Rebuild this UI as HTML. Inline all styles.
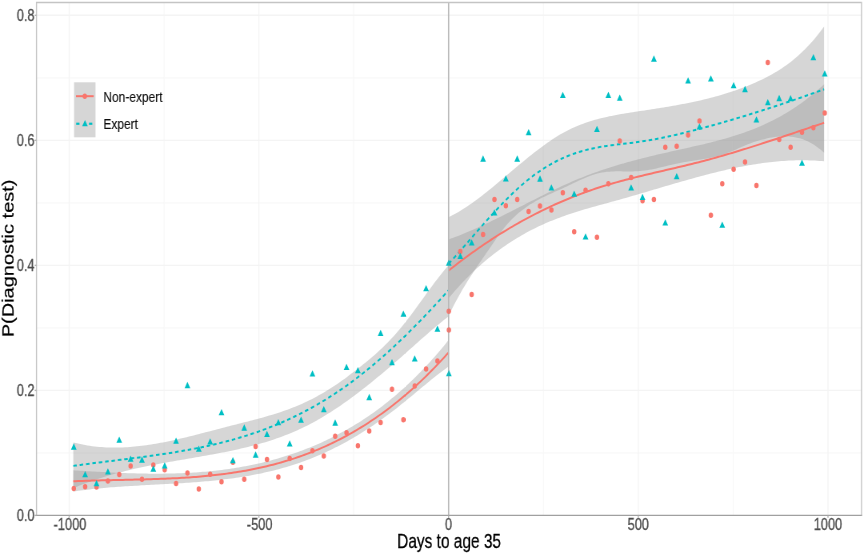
<!DOCTYPE html>
<html><head><meta charset="utf-8"><style>html,body{margin:0;padding:0;background:#fff;width:864px;height:554px;overflow:hidden;position:relative}</style></head><body>
<svg width="864" height="554" viewBox="0 0 1080 554" preserveAspectRatio="none" style="position:absolute;left:0;top:0;will-change:transform">
<defs><filter id="bl" x="-2%" y="-2%" width="104%" height="104%"><feGaussianBlur stdDeviation="0.55 0.3"/></filter></defs>
<rect x="0" y="0" width="1080" height="554" fill="#fff"/>
<g filter="url(#bl)">
<line x1="45.62" x2="1076.88" y1="452.89" y2="452.89" stroke="#F8F8F8" stroke-width="1.2"/>
<line x1="45.62" x2="1076.88" y1="327.87" y2="327.87" stroke="#F8F8F8" stroke-width="1.2"/>
<line x1="45.62" x2="1076.88" y1="202.85" y2="202.85" stroke="#F8F8F8" stroke-width="1.2"/>
<line x1="45.62" x2="1076.88" y1="77.83" y2="77.83" stroke="#F8F8F8" stroke-width="1.2"/>
<line y1="2.5" y2="515.6" x1="205.06" x2="205.06" stroke="#F8F8F8" stroke-width="1.2"/>
<line y1="2.5" y2="515.6" x1="442.19" x2="442.19" stroke="#F8F8F8" stroke-width="1.2"/>
<line y1="2.5" y2="515.6" x1="679.31" x2="679.31" stroke="#F8F8F8" stroke-width="1.2"/>
<line y1="2.5" y2="515.6" x1="916.44" x2="916.44" stroke="#F8F8F8" stroke-width="1.2"/>
<line x1="45.62" x2="1076.88" y1="390.38" y2="390.38" stroke="#F4F4F4" stroke-width="1.4"/>
<line x1="45.62" x2="1076.88" y1="265.36" y2="265.36" stroke="#F4F4F4" stroke-width="1.4"/>
<line x1="45.62" x2="1076.88" y1="140.34" y2="140.34" stroke="#F4F4F4" stroke-width="1.4"/>
<line x1="45.62" x2="1076.88" y1="15.32" y2="15.32" stroke="#F4F4F4" stroke-width="1.4"/>
<line y1="2.5" y2="515.6" x1="86.50" x2="86.50" stroke="#F4F4F4" stroke-width="1.4"/>
<line y1="2.5" y2="515.6" x1="323.62" x2="323.62" stroke="#F4F4F4" stroke-width="1.4"/>
<line y1="2.5" y2="515.6" x1="797.88" x2="797.88" stroke="#F4F4F4" stroke-width="1.4"/>
<line y1="2.5" y2="515.6" x1="1035.00" x2="1035.00" stroke="#F4F4F4" stroke-width="1.4"/>
<path d="M91.62,470.28 L94.58,470.43 L97.53,470.58 L100.48,470.73 L103.43,470.87 L106.38,471.02 L109.33,471.16 L112.28,471.30 L115.23,471.44 L118.18,471.58 L121.13,471.71 L124.08,471.85 L127.03,471.97 L129.98,472.10 L132.93,472.22 L135.88,472.34 L138.83,472.46 L141.78,472.57 L144.73,472.68 L147.68,472.78 L150.63,472.88 L153.58,472.97 L156.54,473.06 L159.49,473.15 L162.44,473.23 L165.39,473.30 L168.34,473.37 L171.29,473.43 L174.24,473.48 L177.19,473.53 L180.14,473.57 L183.09,473.61 L186.04,473.64 L188.99,473.66 L191.94,473.67 L194.89,473.68 L197.84,473.67 L200.79,473.66 L203.74,473.65 L206.69,473.62 L209.64,473.58 L212.59,473.54 L215.54,473.49 L218.50,473.42 L221.45,473.35 L224.40,473.27 L227.35,473.18 L230.30,473.07 L233.25,472.96 L236.20,472.84 L239.15,472.71 L242.10,472.56 L245.05,472.40 L248.00,472.24 L250.95,472.06 L253.90,471.87 L256.85,471.66 L259.80,471.45 L262.75,471.22 L265.70,470.98 L268.65,470.73 L271.60,470.46 L274.55,470.18 L277.50,469.89 L280.46,469.58 L283.41,469.26 L286.36,468.93 L289.31,468.58 L292.26,468.21 L295.21,467.84 L298.16,467.44 L301.11,467.03 L304.06,466.61 L307.01,466.17 L309.96,465.72 L312.91,465.25 L315.86,464.76 L318.81,464.26 L321.76,463.73 L324.71,463.20 L327.66,462.64 L330.61,462.07 L333.56,461.48 L336.51,460.88 L339.46,460.25 L342.42,459.61 L345.37,458.95 L348.32,458.27 L351.27,457.57 L354.22,456.86 L357.17,456.12 L360.12,455.37 L363.07,454.59 L366.02,453.80 L368.97,452.98 L371.92,452.15 L374.87,451.29 L377.82,450.42 L380.77,449.52 L383.72,448.60 L386.67,447.67 L389.62,446.71 L392.57,445.73 L395.52,444.72 L398.47,443.70 L401.42,442.65 L404.38,441.57 L407.33,440.48 L410.28,439.36 L413.23,438.21 L416.18,437.04 L419.13,435.84 L422.08,434.62 L425.03,433.37 L427.98,432.10 L430.93,430.79 L433.88,429.46 L436.83,428.11 L439.78,426.72 L442.73,425.30 L445.68,423.86 L448.63,422.38 L451.58,420.88 L454.53,419.34 L457.48,417.77 L460.43,416.18 L463.38,414.55 L466.33,412.88 L469.29,411.19 L472.24,409.46 L475.19,407.70 L478.14,405.90 L481.09,404.07 L484.04,402.21 L486.99,400.31 L489.94,398.37 L492.89,396.40 L495.84,394.39 L498.79,392.35 L501.74,390.26 L504.69,388.14 L507.64,385.98 L510.59,383.79 L513.54,381.55 L516.49,379.27 L519.44,376.96 L522.39,374.60 L525.34,372.21 L528.29,369.77 L531.25,367.29 L534.20,364.77 L537.15,362.20 L540.10,359.60 L543.05,356.95 L546.00,354.26 L548.95,351.52 L551.90,348.74 L554.85,345.91 L557.80,343.04 L560.75,340.12 L560.75,366.52 L557.80,368.22 L554.85,369.95 L551.90,371.73 L548.95,373.53 L546.00,375.37 L543.05,377.23 L540.10,379.11 L537.15,381.02 L534.20,382.94 L531.25,384.88 L528.29,386.83 L525.34,388.78 L522.39,390.75 L519.44,392.71 L516.49,394.67 L513.54,396.63 L510.59,398.58 L507.64,400.53 L504.69,402.46 L501.74,404.37 L498.79,406.26 L495.84,408.13 L492.89,409.98 L489.94,411.80 L486.99,413.59 L484.04,415.36 L481.09,417.10 L478.14,418.81 L475.19,420.50 L472.24,422.16 L469.29,423.80 L466.33,425.40 L463.38,426.98 L460.43,428.54 L457.48,430.07 L454.53,431.57 L451.58,433.05 L448.63,434.50 L445.68,435.93 L442.73,437.33 L439.78,438.70 L436.83,440.05 L433.88,441.38 L430.93,442.67 L427.98,443.95 L425.03,445.19 L422.08,446.42 L419.13,447.61 L416.18,448.79 L413.23,449.94 L410.28,451.06 L407.33,452.16 L404.38,453.23 L401.42,454.28 L398.47,455.30 L395.52,456.30 L392.57,457.28 L389.62,458.23 L386.67,459.16 L383.72,460.06 L380.77,460.94 L377.82,461.80 L374.87,462.63 L371.92,463.44 L368.97,464.23 L366.02,465.00 L363.07,465.74 L360.12,466.47 L357.17,467.17 L354.22,467.85 L351.27,468.51 L348.32,469.16 L345.37,469.78 L342.42,470.39 L339.46,470.97 L336.51,471.54 L333.56,472.09 L330.61,472.62 L327.66,473.14 L324.71,473.64 L321.76,474.12 L318.81,474.59 L315.86,475.04 L312.91,475.48 L309.96,475.90 L307.01,476.30 L304.06,476.70 L301.11,477.07 L298.16,477.44 L295.21,477.79 L292.26,478.13 L289.31,478.46 L286.36,478.77 L283.41,479.08 L280.46,479.37 L277.50,479.65 L274.55,479.92 L271.60,480.18 L268.65,480.43 L265.70,480.67 L262.75,480.91 L259.80,481.13 L256.85,481.35 L253.90,481.55 L250.95,481.75 L248.00,481.95 L245.05,482.13 L242.10,482.31 L239.15,482.49 L236.20,482.65 L233.25,482.82 L230.30,482.97 L227.35,483.13 L224.40,483.28 L221.45,483.42 L218.50,483.56 L215.54,483.70 L212.59,483.83 L209.64,483.97 L206.69,484.10 L203.74,484.23 L200.79,484.35 L197.84,484.48 L194.89,484.61 L191.94,484.73 L188.99,484.86 L186.04,484.99 L183.09,485.11 L180.14,485.24 L177.19,485.37 L174.24,485.50 L171.29,485.64 L168.34,485.77 L165.39,485.91 L162.44,486.06 L159.49,486.20 L156.54,486.36 L153.58,486.51 L150.63,486.67 L147.68,486.84 L144.73,487.01 L141.78,487.19 L138.83,487.37 L135.88,487.56 L132.93,487.76 L129.98,487.97 L127.03,488.18 L124.08,488.40 L121.13,488.63 L118.18,488.87 L115.23,489.12 L112.28,489.38 L109.33,489.64 L106.38,489.92 L103.43,490.21 L100.48,490.51 L97.53,490.82 L94.58,491.14 L91.62,491.48Z" fill="#999999" fill-opacity="0.4"/>
<path d="M91.62,442.40 L94.58,443.01 L97.53,443.57 L100.48,444.10 L103.43,444.58 L106.38,445.03 L109.33,445.43 L112.28,445.80 L115.23,446.13 L118.18,446.43 L121.13,446.69 L124.08,446.92 L127.03,447.11 L129.98,447.26 L132.93,447.39 L135.88,447.48 L138.83,447.54 L141.78,447.57 L144.73,447.57 L147.68,447.55 L150.63,447.49 L153.58,447.40 L156.54,447.29 L159.49,447.15 L162.44,446.99 L165.39,446.80 L168.34,446.59 L171.29,446.35 L174.24,446.09 L177.19,445.81 L180.14,445.50 L183.09,445.18 L186.04,444.83 L188.99,444.47 L191.94,444.09 L194.89,443.69 L197.84,443.27 L200.79,442.84 L203.74,442.38 L206.69,441.92 L209.64,441.44 L212.59,440.95 L215.54,440.44 L218.50,439.92 L221.45,439.39 L224.40,438.85 L227.35,438.30 L230.30,437.73 L233.25,437.16 L236.20,436.59 L239.15,436.00 L242.10,435.41 L245.05,434.81 L248.00,434.21 L250.95,433.60 L253.90,432.98 L256.85,432.37 L259.80,431.75 L262.75,431.13 L265.70,430.51 L268.65,429.89 L271.60,429.27 L274.55,428.65 L277.50,428.03 L280.46,427.42 L283.41,426.81 L286.36,426.20 L289.31,425.59 L292.26,424.99 L295.21,424.40 L298.16,423.80 L301.11,423.21 L304.06,422.61 L307.01,422.01 L309.96,421.41 L312.91,420.80 L315.86,420.19 L318.81,419.57 L321.76,418.94 L324.71,418.30 L327.66,417.65 L330.61,416.99 L333.56,416.31 L336.51,415.62 L339.46,414.91 L342.42,414.18 L345.37,413.44 L348.32,412.67 L351.27,411.89 L354.22,411.08 L357.17,410.25 L360.12,409.39 L363.07,408.50 L366.02,407.59 L368.97,406.65 L371.92,405.67 L374.87,404.67 L377.82,403.63 L380.77,402.56 L383.72,401.46 L386.67,400.31 L389.62,399.13 L392.57,397.91 L395.52,396.65 L398.47,395.36 L401.42,394.02 L404.38,392.65 L407.33,391.24 L410.28,389.80 L413.23,388.31 L416.18,386.79 L419.13,385.23 L422.08,383.63 L425.03,382.00 L427.98,380.33 L430.93,378.63 L433.88,376.88 L436.83,375.10 L439.78,373.29 L442.73,371.48 L445.68,369.65 L448.63,367.81 L451.58,365.94 L454.53,364.06 L457.48,362.15 L460.43,360.21 L463.38,358.23 L466.33,356.21 L469.29,354.14 L472.24,352.03 L475.19,349.87 L478.14,347.64 L481.09,345.36 L484.04,343.01 L486.99,340.59 L489.94,338.09 L492.89,335.52 L495.84,332.86 L498.79,330.11 L501.74,327.28 L504.69,324.35 L507.64,321.34 L510.59,318.27 L513.54,315.13 L516.49,311.94 L519.44,308.72 L522.39,305.46 L525.34,302.19 L528.29,298.91 L531.25,295.63 L534.20,292.37 L537.15,289.13 L540.10,285.93 L543.05,282.77 L546.00,279.66 L548.95,276.63 L551.90,273.66 L554.85,270.79 L557.80,268.01 L560.75,265.34 L560.75,316.42 L557.80,318.24 L554.85,320.10 L551.90,322.00 L548.95,323.92 L546.00,325.87 L543.05,327.85 L540.10,329.85 L537.15,331.87 L534.20,333.91 L531.25,335.96 L528.29,338.03 L525.34,340.11 L522.39,342.20 L519.44,344.29 L516.49,346.40 L513.54,348.50 L510.59,350.60 L507.64,352.70 L504.69,354.80 L501.74,356.88 L498.79,358.96 L495.84,361.03 L492.89,363.09 L489.94,365.13 L486.99,367.17 L484.04,369.19 L481.09,371.19 L478.14,373.18 L475.19,375.16 L472.24,377.12 L469.29,379.07 L466.33,381.00 L463.38,382.91 L460.43,384.80 L457.48,386.68 L454.53,388.53 L451.58,390.37 L448.63,392.18 L445.68,393.97 L442.73,395.75 L439.78,397.50 L436.83,399.22 L433.88,400.92 L430.93,402.60 L427.98,404.26 L425.03,405.88 L422.08,407.49 L419.13,409.06 L416.18,410.61 L413.23,412.13 L410.28,413.62 L407.33,415.08 L404.38,416.52 L401.42,417.92 L398.47,419.29 L395.52,420.63 L392.57,421.93 L389.62,423.21 L386.67,424.45 L383.72,425.65 L380.77,426.83 L377.82,427.97 L374.87,429.08 L371.92,430.15 L368.97,431.20 L366.02,432.22 L363.07,433.21 L360.12,434.17 L357.17,435.11 L354.22,436.01 L351.27,436.90 L348.32,437.75 L345.37,438.59 L342.42,439.39 L339.46,440.18 L336.51,440.94 L333.56,441.68 L330.61,442.40 L327.66,443.10 L324.71,443.79 L321.76,444.45 L318.81,445.09 L315.86,445.72 L312.91,446.33 L309.96,446.92 L307.01,447.50 L304.06,448.07 L301.11,448.62 L298.16,449.16 L295.21,449.68 L292.26,450.20 L289.31,450.70 L286.36,451.19 L283.41,451.68 L280.46,452.15 L277.50,452.62 L274.55,453.08 L271.60,453.53 L268.65,453.98 L265.70,454.42 L262.75,454.85 L259.80,455.28 L256.85,455.70 L253.90,456.12 L250.95,456.53 L248.00,456.94 L245.05,457.35 L242.10,457.76 L239.15,458.17 L236.20,458.57 L233.25,458.98 L230.30,459.38 L227.35,459.79 L224.40,460.19 L221.45,460.60 L218.50,461.01 L215.54,461.42 L212.59,461.84 L209.64,462.26 L206.69,462.68 L203.74,463.11 L200.79,463.55 L197.84,463.99 L194.89,464.43 L191.94,464.89 L188.99,465.35 L186.04,465.82 L183.09,466.30 L180.14,466.78 L177.19,467.28 L174.24,467.78 L171.29,468.30 L168.34,468.83 L165.39,469.37 L162.44,469.92 L159.49,470.49 L156.54,471.06 L153.58,471.66 L150.63,472.26 L147.68,472.88 L144.73,473.52 L141.78,474.17 L138.83,474.84 L135.88,475.53 L132.93,476.23 L129.98,476.95 L127.03,477.69 L124.08,478.45 L121.13,479.23 L118.18,480.03 L115.23,480.85 L112.28,481.69 L109.33,482.55 L106.38,483.44 L103.43,484.35 L100.48,485.28 L97.53,486.23 L94.58,487.21 L91.62,488.22Z" fill="#999999" fill-opacity="0.4"/>
<path d="M560.75,239.47 L563.70,238.62 L566.65,237.74 L569.61,236.84 L572.56,235.92 L575.51,234.99 L578.46,234.03 L581.41,233.05 L584.37,232.05 L587.32,231.04 L590.27,230.01 L593.22,228.97 L596.17,227.90 L599.13,226.83 L602.08,225.74 L605.03,224.64 L607.98,223.53 L610.93,222.40 L613.89,221.27 L616.84,220.12 L619.79,218.97 L622.74,217.81 L625.69,216.64 L628.65,215.46 L631.60,214.28 L634.55,213.09 L637.50,211.90 L640.46,210.70 L643.41,209.50 L646.36,208.30 L649.31,207.10 L652.26,205.90 L655.22,204.70 L658.17,203.50 L661.12,202.30 L664.07,201.10 L667.02,199.90 L669.98,198.71 L672.93,197.53 L675.88,196.35 L678.83,195.17 L681.78,194.01 L684.74,192.85 L687.69,191.70 L690.64,190.56 L693.59,189.43 L696.54,188.31 L699.50,187.20 L702.45,186.11 L705.40,185.03 L708.35,183.96 L711.30,182.91 L714.26,181.87 L717.21,180.86 L720.16,179.85 L723.11,178.87 L726.06,177.90 L729.02,176.96 L731.97,176.03 L734.92,175.12 L737.87,174.23 L740.82,173.36 L743.78,172.50 L746.73,171.67 L749.68,170.84 L752.63,170.04 L755.58,169.25 L758.54,168.47 L761.49,167.71 L764.44,166.96 L767.39,166.23 L770.35,165.50 L773.30,164.80 L776.25,164.10 L779.20,163.42 L782.15,162.75 L785.11,162.08 L788.06,161.43 L791.01,160.79 L793.96,160.16 L796.91,159.54 L799.87,158.93 L802.82,158.33 L805.77,157.73 L808.72,157.14 L811.67,156.56 L814.63,155.99 L817.58,155.42 L820.53,154.86 L823.48,154.31 L826.43,153.76 L829.39,153.21 L832.34,152.67 L835.29,152.13 L838.24,151.60 L841.19,151.06 L844.15,150.53 L847.10,150.01 L850.05,149.48 L853.00,148.96 L855.95,148.43 L858.91,147.91 L861.86,147.38 L864.81,146.85 L867.76,146.32 L870.71,145.78 L873.67,145.24 L876.62,144.69 L879.57,144.14 L882.52,143.57 L885.47,143.00 L888.43,142.42 L891.38,141.82 L894.33,141.22 L897.28,140.60 L900.24,139.97 L903.19,139.32 L906.14,138.66 L909.09,137.98 L912.04,137.28 L915.00,136.57 L917.95,135.83 L920.90,135.08 L923.85,134.30 L926.80,133.51 L929.76,132.69 L932.71,131.84 L935.66,130.97 L938.61,130.08 L941.56,129.15 L944.52,128.20 L947.47,127.23 L950.42,126.22 L953.37,125.18 L956.32,124.11 L959.28,123.01 L962.23,121.87 L965.18,120.70 L968.13,119.50 L971.08,118.26 L974.04,116.98 L976.99,115.66 L979.94,114.31 L982.89,112.91 L985.84,111.48 L988.80,110.00 L991.75,108.48 L994.70,106.91 L997.65,105.30 L1000.60,103.64 L1003.56,101.93 L1006.51,100.18 L1009.46,98.37 L1012.41,96.51 L1015.36,94.60 L1018.32,92.63 L1021.27,90.61 L1024.22,88.53 L1027.17,86.39 L1030.12,84.20 L1030.12,161.28 L1027.17,161.07 L1024.22,160.88 L1021.27,160.72 L1018.32,160.58 L1015.36,160.47 L1012.41,160.38 L1009.46,160.31 L1006.51,160.27 L1003.56,160.25 L1000.60,160.25 L997.65,160.28 L994.70,160.33 L991.75,160.39 L988.80,160.48 L985.84,160.60 L982.89,160.73 L979.94,160.88 L976.99,161.05 L974.04,161.24 L971.08,161.45 L968.13,161.68 L965.18,161.93 L962.23,162.19 L959.28,162.48 L956.32,162.78 L953.37,163.09 L950.42,163.43 L947.47,163.78 L944.52,164.14 L941.56,164.52 L938.61,164.92 L935.66,165.33 L932.71,165.75 L929.76,166.19 L926.80,166.64 L923.85,167.11 L920.90,167.59 L917.95,168.08 L915.00,168.58 L912.04,169.10 L909.09,169.62 L906.14,170.16 L903.19,170.71 L900.24,171.27 L897.28,171.83 L894.33,172.41 L891.38,173.00 L888.43,173.60 L885.47,174.20 L882.52,174.81 L879.57,175.43 L876.62,176.06 L873.67,176.70 L870.71,177.34 L867.76,177.99 L864.81,178.64 L861.86,179.30 L858.91,179.96 L855.95,180.63 L853.00,181.31 L850.05,181.99 L847.10,182.67 L844.15,183.35 L841.19,184.04 L838.24,184.73 L835.29,185.43 L832.34,186.12 L829.39,186.82 L826.43,187.52 L823.48,188.22 L820.53,188.92 L817.58,189.62 L814.63,190.32 L811.67,191.02 L808.72,191.71 L805.77,192.41 L802.82,193.11 L799.87,193.80 L796.91,194.49 L793.96,195.18 L791.01,195.86 L788.06,196.54 L785.11,197.22 L782.15,197.90 L779.20,198.56 L776.25,199.23 L773.30,199.89 L770.35,200.54 L767.39,201.19 L764.44,201.84 L761.49,202.48 L758.54,203.13 L755.58,203.77 L752.63,204.42 L749.68,205.07 L746.73,205.73 L743.78,206.39 L740.82,207.05 L737.87,207.73 L734.92,208.41 L731.97,209.10 L729.02,209.80 L726.06,210.51 L723.11,211.24 L720.16,211.98 L717.21,212.73 L714.26,213.50 L711.30,214.29 L708.35,215.10 L705.40,215.92 L702.45,216.77 L699.50,217.63 L696.54,218.52 L693.59,219.44 L690.64,220.38 L687.69,221.34 L684.74,222.33 L681.78,223.35 L678.83,224.40 L675.88,225.48 L672.93,226.59 L669.98,227.72 L667.02,228.89 L664.07,230.10 L661.12,231.33 L658.17,232.60 L655.22,233.91 L652.26,235.25 L649.31,236.63 L646.36,238.04 L643.41,239.49 L640.46,240.98 L637.50,242.50 L634.55,244.07 L631.60,245.68 L628.65,247.33 L625.69,249.02 L622.74,250.75 L619.79,252.52 L616.84,254.34 L613.89,256.21 L610.93,258.12 L607.98,260.07 L605.03,262.07 L602.08,264.12 L599.13,266.22 L596.17,268.37 L593.22,270.56 L590.27,272.81 L587.32,275.11 L584.37,277.46 L581.41,279.86 L578.46,282.31 L575.51,284.82 L572.56,287.38 L569.61,290.00 L566.65,292.68 L563.70,295.41 L560.75,298.19Z" fill="#999999" fill-opacity="0.4"/>
<path d="M560.75,217.27 L563.70,216.09 L566.65,214.85 L569.61,213.55 L572.56,212.19 L575.51,210.77 L578.46,209.30 L581.41,207.78 L584.37,206.21 L587.32,204.59 L590.27,202.93 L593.22,201.23 L596.17,199.49 L599.13,197.71 L602.08,195.91 L605.03,194.07 L607.98,192.20 L610.93,190.31 L613.89,188.40 L616.84,186.46 L619.79,184.51 L622.74,182.54 L625.69,180.57 L628.65,178.58 L631.60,176.59 L634.55,174.59 L637.50,172.59 L640.46,170.59 L643.41,168.59 L646.36,166.60 L649.31,164.62 L652.26,162.66 L655.22,160.70 L658.17,158.76 L661.12,156.85 L664.07,154.95 L667.02,153.08 L669.98,151.23 L672.93,149.42 L675.88,147.64 L678.83,145.89 L681.78,144.18 L684.74,142.51 L687.69,140.88 L690.64,139.30 L693.59,137.77 L696.54,136.29 L699.50,134.86 L702.45,133.49 L705.40,132.17 L708.35,130.92 L711.30,129.72 L714.26,128.58 L717.21,127.50 L720.16,126.46 L723.11,125.48 L726.06,124.54 L729.02,123.65 L731.97,122.81 L734.92,122.01 L737.87,121.24 L740.82,120.52 L743.78,119.83 L746.73,119.18 L749.68,118.56 L752.63,117.97 L755.58,117.41 L758.54,116.88 L761.49,116.37 L764.44,115.88 L767.39,115.42 L770.35,114.97 L773.30,114.54 L776.25,114.12 L779.20,113.72 L782.15,113.33 L785.11,112.95 L788.06,112.58 L791.01,112.21 L793.96,111.84 L796.91,111.48 L799.87,111.11 L802.82,110.75 L805.77,110.39 L808.72,110.03 L811.67,109.66 L814.63,109.30 L817.58,108.93 L820.53,108.56 L823.48,108.18 L826.43,107.80 L829.39,107.42 L832.34,107.03 L835.29,106.63 L838.24,106.23 L841.19,105.82 L844.15,105.41 L847.10,104.98 L850.05,104.55 L853.00,104.10 L855.95,103.65 L858.91,103.19 L861.86,102.71 L864.81,102.22 L867.76,101.72 L870.71,101.21 L873.67,100.69 L876.62,100.15 L879.57,99.59 L882.52,99.02 L885.47,98.43 L888.43,97.83 L891.38,97.21 L894.33,96.57 L897.28,95.92 L900.24,95.24 L903.19,94.55 L906.14,93.83 L909.09,93.09 L912.04,92.34 L915.00,91.56 L917.95,90.76 L920.90,89.93 L923.85,89.08 L926.80,88.21 L929.76,87.31 L932.71,86.39 L935.66,85.44 L938.61,84.47 L941.56,83.46 L944.52,82.43 L947.47,81.37 L950.42,80.28 L953.37,79.15 L956.32,77.99 L959.28,76.78 L962.23,75.52 L965.18,74.22 L968.13,72.86 L971.08,71.45 L974.04,69.98 L976.99,68.45 L979.94,66.85 L982.89,65.19 L985.84,63.45 L988.80,61.64 L991.75,59.74 L994.70,57.77 L997.65,55.71 L1000.60,53.57 L1003.56,51.33 L1006.51,49.00 L1009.46,46.56 L1012.41,44.03 L1015.36,41.39 L1018.32,38.65 L1021.27,35.79 L1024.22,32.82 L1027.17,29.73 L1030.12,26.52 L1030.12,152.72 L1027.17,150.61 L1024.22,148.67 L1021.27,146.90 L1018.32,145.28 L1015.36,143.81 L1012.41,142.49 L1009.46,141.31 L1006.51,140.27 L1003.56,139.36 L1000.60,138.58 L997.65,137.92 L994.70,137.38 L991.75,136.96 L988.80,136.64 L985.84,136.42 L982.89,136.31 L979.94,136.29 L976.99,136.35 L974.04,136.50 L971.08,136.73 L968.13,137.04 L965.18,137.41 L962.23,137.84 L959.28,138.34 L956.32,138.88 L953.37,139.47 L950.42,140.11 L947.47,140.78 L944.52,141.51 L941.56,142.30 L938.61,143.17 L935.66,144.08 L932.71,145.05 L929.76,146.05 L926.80,147.07 L923.85,148.10 L920.90,149.14 L917.95,150.16 L915.00,151.16 L912.04,152.13 L909.09,153.06 L906.14,153.93 L903.19,154.73 L900.24,155.47 L897.28,156.14 L894.33,156.75 L891.38,157.30 L888.43,157.81 L885.47,158.28 L882.52,158.72 L879.57,159.12 L876.62,159.50 L873.67,159.87 L870.71,160.22 L867.76,160.57 L864.81,160.92 L861.86,161.28 L858.91,161.65 L855.95,162.04 L853.00,162.45 L850.05,162.90 L847.10,163.38 L844.15,163.90 L841.19,164.44 L838.24,164.99 L835.29,165.56 L832.34,166.14 L829.39,166.72 L826.43,167.29 L823.48,167.84 L820.53,168.38 L817.58,168.89 L814.63,169.38 L811.67,169.82 L808.72,170.22 L805.77,170.57 L802.82,170.87 L799.87,171.10 L796.91,171.26 L793.96,171.37 L791.01,171.43 L788.06,171.45 L785.11,171.45 L782.15,171.42 L779.20,171.40 L776.25,171.37 L773.30,171.36 L770.35,171.37 L767.39,171.42 L764.44,171.51 L761.49,171.66 L758.54,171.87 L755.58,172.16 L752.63,172.54 L749.68,173.01 L746.73,173.58 L743.78,174.25 L740.82,175.00 L737.87,175.83 L734.92,176.73 L731.97,177.69 L729.02,178.71 L726.06,179.76 L723.11,180.85 L720.16,181.96 L717.21,183.09 L714.26,184.23 L711.30,185.36 L708.35,186.48 L705.40,187.59 L702.45,188.67 L699.50,189.73 L696.54,190.79 L693.59,191.84 L690.64,192.90 L687.69,193.97 L684.74,195.06 L681.78,196.18 L678.83,197.33 L675.88,198.52 L672.93,199.76 L669.98,201.06 L667.02,202.42 L664.07,203.86 L661.12,205.37 L658.17,206.96 L655.22,208.65 L652.26,210.44 L649.31,212.33 L646.36,214.34 L643.41,216.47 L640.46,218.74 L637.50,221.15 L634.55,223.74 L631.60,226.51 L628.65,229.49 L625.69,232.64 L622.74,235.92 L619.79,239.29 L616.84,242.72 L613.89,246.18 L610.93,249.63 L607.98,253.05 L605.03,256.47 L602.08,259.89 L599.13,263.33 L596.17,266.81 L593.22,270.33 L590.27,273.91 L587.32,277.56 L584.37,281.30 L581.41,285.14 L578.46,289.09 L575.51,293.18 L572.56,297.40 L569.61,301.78 L566.65,306.33 L563.70,311.06 L560.75,315.99Z" fill="#999999" fill-opacity="0.4"/>
<path d="M91.62,481.27 L94.58,481.16 L97.53,481.07 L100.48,480.98 L103.43,480.89 L106.38,480.81 L109.33,480.74 L112.28,480.66 L115.23,480.59 L118.18,480.53 L121.13,480.46 L124.08,480.40 L127.03,480.34 L129.98,480.28 L132.93,480.23 L135.88,480.18 L138.83,480.13 L141.78,480.07 L144.73,480.02 L147.68,479.98 L150.63,479.93 L153.58,479.88 L156.54,479.83 L159.49,479.78 L162.44,479.73 L165.39,479.68 L168.34,479.62 L171.29,479.57 L174.24,479.51 L177.19,479.45 L180.14,479.39 L183.09,479.33 L186.04,479.26 L188.99,479.19 L191.94,479.12 L194.89,479.04 L197.84,478.96 L200.79,478.87 L203.74,478.78 L206.69,478.69 L209.64,478.59 L212.59,478.48 L215.54,478.37 L218.50,478.25 L221.45,478.13 L224.40,478.00 L227.35,477.86 L230.30,477.72 L233.25,477.57 L236.20,477.41 L239.15,477.24 L242.10,477.07 L245.05,476.89 L248.00,476.69 L250.95,476.49 L253.90,476.28 L256.85,476.07 L259.80,475.84 L262.75,475.60 L265.70,475.35 L268.65,475.09 L271.60,474.82 L274.55,474.54 L277.50,474.25 L280.46,473.94 L283.41,473.63 L286.36,473.30 L289.31,472.96 L292.26,472.60 L295.21,472.24 L298.16,471.86 L301.11,471.47 L304.06,471.06 L307.01,470.64 L309.96,470.20 L312.91,469.76 L315.86,469.29 L318.81,468.81 L321.76,468.32 L324.71,467.81 L327.66,467.28 L330.61,466.74 L333.56,466.18 L336.51,465.60 L339.46,465.01 L342.42,464.40 L345.37,463.78 L348.32,463.13 L351.27,462.47 L354.22,461.79 L357.17,461.09 L360.12,460.37 L363.07,459.63 L366.02,458.87 L368.97,458.10 L371.92,457.30 L374.87,456.48 L377.82,455.64 L380.77,454.79 L383.72,453.91 L386.67,453.01 L389.62,452.08 L392.57,451.14 L395.52,450.17 L398.47,449.18 L401.42,448.17 L404.38,447.14 L407.33,446.08 L410.28,445.00 L413.23,443.90 L416.18,442.77 L419.13,441.62 L422.08,440.44 L425.03,439.24 L427.98,438.01 L430.93,436.76 L433.88,435.48 L436.83,434.18 L439.78,432.85 L442.73,431.49 L445.68,430.11 L448.63,428.70 L451.58,427.26 L454.53,425.79 L457.48,424.30 L460.43,422.78 L463.38,421.23 L466.33,419.66 L469.29,418.05 L472.24,416.41 L475.19,414.75 L478.14,413.05 L481.09,411.33 L484.04,409.58 L486.99,407.79 L489.94,405.98 L492.89,404.13 L495.84,402.25 L498.79,400.34 L501.74,398.40 L504.69,396.43 L507.64,394.42 L510.59,392.38 L513.54,390.31 L516.49,388.21 L519.44,386.07 L522.39,383.90 L525.34,381.70 L528.29,379.46 L531.25,377.18 L534.20,374.87 L537.15,372.53 L540.10,370.15 L543.05,367.74 L546.00,365.29 L548.95,362.80 L551.90,360.28 L554.85,357.72 L557.80,355.12 L560.75,352.49" fill="none" stroke="#F8766D" stroke-width="2.0"/>
<path d="M560.75,270.61 L563.70,268.73 L566.65,266.87 L569.61,265.04 L572.56,263.22 L575.51,261.42 L578.46,259.64 L581.41,257.88 L584.37,256.14 L587.32,254.42 L590.27,252.71 L593.22,251.03 L596.17,249.36 L599.13,247.71 L602.08,246.09 L605.03,244.47 L607.98,242.88 L610.93,241.31 L613.89,239.75 L616.84,238.22 L619.79,236.70 L622.74,235.20 L625.69,233.72 L628.65,232.25 L631.60,230.81 L634.55,229.38 L637.50,227.97 L640.46,226.58 L643.41,225.21 L646.36,223.85 L649.31,222.52 L652.26,221.20 L655.22,219.89 L658.17,218.61 L661.12,217.34 L664.07,216.09 L667.02,214.86 L669.98,213.65 L672.93,212.45 L675.88,211.27 L678.83,210.11 L681.78,208.97 L684.74,207.84 L687.69,206.73 L690.64,205.64 L693.59,204.56 L696.54,203.50 L699.50,202.46 L702.45,201.44 L705.40,200.43 L708.35,199.44 L711.30,198.46 L714.26,197.50 L717.21,196.56 L720.16,195.64 L723.11,194.73 L726.06,193.84 L729.02,192.97 L731.97,192.11 L734.92,191.27 L737.87,190.44 L740.82,189.63 L743.78,188.84 L746.73,188.06 L749.68,187.30 L752.63,186.56 L755.58,185.82 L758.54,185.11 L761.49,184.40 L764.44,183.71 L767.39,183.03 L770.35,182.36 L773.30,181.71 L776.25,181.06 L779.20,180.43 L782.15,179.80 L785.11,179.19 L788.06,178.58 L791.01,177.98 L793.96,177.39 L796.91,176.80 L799.87,176.22 L802.82,175.65 L805.77,175.08 L808.72,174.51 L811.67,173.95 L814.63,173.40 L817.58,172.84 L820.53,172.29 L823.48,171.74 L826.43,171.19 L829.39,170.65 L832.34,170.10 L835.29,169.55 L838.24,169.00 L841.19,168.45 L844.15,167.90 L847.10,167.35 L850.05,166.79 L853.00,166.23 L855.95,165.66 L858.91,165.09 L861.86,164.51 L864.81,163.93 L867.76,163.34 L870.71,162.75 L873.67,162.15 L876.62,161.54 L879.57,160.92 L882.52,160.29 L885.47,159.66 L888.43,159.01 L891.38,158.36 L894.33,157.71 L897.28,157.04 L900.24,156.37 L903.19,155.70 L906.14,155.01 L909.09,154.32 L912.04,153.63 L915.00,152.93 L917.95,152.22 L920.90,151.51 L923.85,150.79 L926.80,150.06 L929.76,149.33 L932.71,148.60 L935.66,147.86 L938.61,147.12 L941.56,146.37 L944.52,145.62 L947.47,144.86 L950.42,144.11 L953.37,143.34 L956.32,142.58 L959.28,141.81 L962.23,141.03 L965.18,140.26 L968.13,139.48 L971.08,138.70 L974.04,137.91 L976.99,137.13 L979.94,136.34 L982.89,135.55 L985.84,134.76 L988.80,133.97 L991.75,133.17 L994.70,132.38 L997.65,131.58 L1000.60,130.78 L1003.56,129.99 L1006.51,129.19 L1009.46,128.39 L1012.41,127.59 L1015.36,126.79 L1018.32,125.99 L1021.27,125.20 L1024.22,124.40 L1027.17,123.60 L1030.12,122.81" fill="none" stroke="#F8766D" stroke-width="2.0"/>
<path d="M91.62,465.88 L94.58,465.55 L97.53,465.22 L100.48,464.90 L103.43,464.58 L106.38,464.27 L109.33,463.95 L112.28,463.65 L115.23,463.34 L118.18,463.04 L121.13,462.74 L124.08,462.44 L127.03,462.14 L129.98,461.85 L132.93,461.56 L135.88,461.26 L138.83,460.97 L141.78,460.68 L144.73,460.38 L147.68,460.09 L150.63,459.80 L153.58,459.50 L156.54,459.21 L159.49,458.91 L162.44,458.61 L165.39,458.31 L168.34,458.01 L171.29,457.70 L174.24,457.39 L177.19,457.08 L180.14,456.77 L183.09,456.45 L186.04,456.13 L188.99,455.80 L191.94,455.47 L194.89,455.13 L197.84,454.79 L200.79,454.44 L203.74,454.09 L206.69,453.73 L209.64,453.36 L212.59,452.99 L215.54,452.61 L218.50,452.22 L221.45,451.83 L224.40,451.43 L227.35,451.02 L230.30,450.60 L233.25,450.17 L236.20,449.74 L239.15,449.29 L242.10,448.84 L245.05,448.37 L248.00,447.90 L250.95,447.41 L253.90,446.92 L256.85,446.41 L259.80,445.90 L262.75,445.37 L265.70,444.83 L268.65,444.27 L271.60,443.71 L274.55,443.13 L277.50,442.54 L280.46,441.94 L283.41,441.32 L286.36,440.69 L289.31,440.05 L292.26,439.39 L295.21,438.71 L298.16,438.02 L301.11,437.32 L304.06,436.60 L307.01,435.86 L309.96,435.11 L312.91,434.35 L315.86,433.56 L318.81,432.76 L321.76,431.94 L324.71,431.11 L327.66,430.25 L330.61,429.38 L333.56,428.49 L336.51,427.58 L339.46,426.65 L342.42,425.71 L345.37,424.74 L348.32,423.75 L351.27,422.75 L354.22,421.72 L357.17,420.68 L360.12,419.61 L363.07,418.52 L366.02,417.41 L368.97,416.27 L371.92,415.12 L374.87,413.94 L377.82,412.74 L380.77,411.52 L383.72,410.28 L386.67,409.01 L389.62,407.71 L392.57,406.40 L395.52,405.05 L398.47,403.69 L401.42,402.30 L404.38,400.88 L407.33,399.44 L410.28,397.97 L413.23,396.48 L416.18,394.96 L419.13,393.41 L422.08,391.84 L425.03,390.24 L427.98,388.61 L430.93,386.96 L433.88,385.27 L436.83,383.56 L439.78,381.83 L442.73,380.06 L445.68,378.27 L448.63,376.46 L451.58,374.62 L454.53,372.75 L457.48,370.86 L460.43,368.94 L463.38,366.99 L466.33,365.03 L469.29,363.03 L472.24,361.02 L475.19,358.97 L478.14,356.91 L481.09,354.82 L484.04,352.70 L486.99,350.57 L489.94,348.41 L492.89,346.22 L495.84,344.02 L498.79,341.79 L501.74,339.54 L504.69,337.27 L507.64,334.97 L510.59,332.65 L513.54,330.32 L516.49,327.96 L519.44,325.57 L522.39,323.17 L525.34,320.75 L528.29,318.31 L531.25,315.84 L534.20,313.36 L537.15,310.86 L540.10,308.33 L543.05,305.79 L546.00,303.23 L548.95,300.65 L551.90,298.05 L554.85,295.43 L557.80,292.79 L560.75,290.14" fill="none" stroke="#00BFC4" stroke-width="2.0" stroke-dasharray="4.4 3.6"/>
<path d="M560.75,263.82 L563.70,261.25 L566.65,258.65 L569.61,256.01 L572.56,253.35 L575.51,250.66 L578.46,247.96 L581.41,245.25 L584.37,242.53 L587.32,239.80 L590.27,237.07 L593.22,234.34 L596.17,231.61 L599.13,228.90 L602.08,226.21 L605.03,223.53 L607.98,220.87 L610.93,218.23 L613.89,215.61 L616.84,213.03 L619.79,210.47 L622.74,207.94 L625.69,205.45 L628.65,202.99 L631.60,200.58 L634.55,198.20 L637.50,195.87 L640.46,193.59 L643.41,191.36 L646.36,189.18 L649.31,187.05 L652.26,184.98 L655.22,182.96 L658.17,181.00 L661.12,179.10 L664.07,177.26 L667.02,175.48 L669.98,173.75 L672.93,172.07 L675.88,170.46 L678.83,168.90 L681.78,167.40 L684.74,165.96 L687.69,164.57 L690.64,163.24 L693.59,161.97 L696.54,160.75 L699.50,159.59 L702.45,158.48 L705.40,157.43 L708.35,156.43 L711.30,155.49 L714.26,154.59 L717.21,153.74 L720.16,152.93 L723.11,152.17 L726.06,151.45 L729.02,150.77 L731.97,150.14 L734.92,149.54 L737.87,148.97 L740.82,148.44 L743.78,147.95 L746.73,147.48 L749.68,147.04 L752.63,146.64 L755.58,146.25 L758.54,145.89 L761.49,145.55 L764.44,145.23 L767.39,144.92 L770.35,144.63 L773.30,144.34 L776.25,144.06 L779.20,143.78 L782.15,143.50 L785.11,143.23 L788.06,142.94 L791.01,142.65 L793.96,142.35 L796.91,142.03 L799.87,141.70 L802.82,141.36 L805.77,140.99 L808.72,140.61 L811.67,140.21 L814.63,139.80 L817.58,139.37 L820.53,138.93 L823.48,138.47 L826.43,138.00 L829.39,137.51 L832.34,137.02 L835.29,136.51 L838.24,135.99 L841.19,135.45 L844.15,134.91 L847.10,134.36 L850.05,133.79 L853.00,133.22 L855.95,132.64 L858.91,132.05 L861.86,131.46 L864.81,130.85 L867.76,130.24 L870.71,129.62 L873.67,129.00 L876.62,128.37 L879.57,127.74 L882.52,127.10 L885.47,126.45 L888.43,125.81 L891.38,125.15 L894.33,124.49 L897.28,123.83 L900.24,123.16 L903.19,122.49 L906.14,121.81 L909.09,121.12 L912.04,120.44 L915.00,119.74 L917.95,119.05 L920.90,118.34 L923.85,117.64 L926.80,116.92 L929.76,116.21 L932.71,115.49 L935.66,114.76 L938.61,114.03 L941.56,113.30 L944.52,112.56 L947.47,111.81 L950.42,111.07 L953.37,110.31 L956.32,109.56 L959.28,108.80 L962.23,108.03 L965.18,107.26 L968.13,106.49 L971.08,105.71 L974.04,104.93 L976.99,104.14 L979.94,103.35 L982.89,102.56 L985.84,101.76 L988.80,100.96 L991.75,100.15 L994.70,99.34 L997.65,98.53 L1000.60,97.71 L1003.56,96.89 L1006.51,96.06 L1009.46,95.23 L1012.41,94.40 L1015.36,93.56 L1018.32,92.72 L1021.27,91.88 L1024.22,91.03 L1027.17,90.18 L1030.12,89.33" fill="none" stroke="#00BFC4" stroke-width="2.0" stroke-dasharray="4.4 3.6"/>
<line x1="560.75" x2="560.75" y1="2.5" y2="515.6" stroke="#C6C6C6" stroke-width="1.6"/>
<ellipse cx="92.25" cy="488.40" rx="2.75" ry="2.75" fill="#F8766D"/>
<ellipse cx="106.45" cy="486.80" rx="2.75" ry="2.75" fill="#F8766D"/>
<ellipse cx="120.66" cy="487.10" rx="2.75" ry="2.75" fill="#F8766D"/>
<ellipse cx="134.86" cy="481.10" rx="2.75" ry="2.75" fill="#F8766D"/>
<ellipse cx="149.07" cy="474.60" rx="2.75" ry="2.75" fill="#F8766D"/>
<ellipse cx="163.28" cy="466.00" rx="2.75" ry="2.75" fill="#F8766D"/>
<ellipse cx="177.48" cy="479.30" rx="2.75" ry="2.75" fill="#F8766D"/>
<ellipse cx="191.69" cy="465.00" rx="2.75" ry="2.75" fill="#F8766D"/>
<ellipse cx="205.89" cy="469.80" rx="2.75" ry="2.75" fill="#F8766D"/>
<ellipse cx="220.10" cy="483.60" rx="2.75" ry="2.75" fill="#F8766D"/>
<ellipse cx="234.30" cy="473.10" rx="2.75" ry="2.75" fill="#F8766D"/>
<ellipse cx="248.50" cy="489.00" rx="2.75" ry="2.75" fill="#F8766D"/>
<ellipse cx="262.71" cy="474.20" rx="2.75" ry="2.75" fill="#F8766D"/>
<ellipse cx="276.91" cy="481.70" rx="2.75" ry="2.75" fill="#F8766D"/>
<ellipse cx="291.12" cy="462.20" rx="2.75" ry="2.75" fill="#F8766D"/>
<ellipse cx="305.32" cy="479.20" rx="2.75" ry="2.75" fill="#F8766D"/>
<ellipse cx="319.53" cy="446.50" rx="2.75" ry="2.75" fill="#F8766D"/>
<ellipse cx="333.73" cy="459.40" rx="2.75" ry="2.75" fill="#F8766D"/>
<ellipse cx="347.94" cy="477.10" rx="2.75" ry="2.75" fill="#F8766D"/>
<ellipse cx="362.14" cy="458.60" rx="2.75" ry="2.75" fill="#F8766D"/>
<ellipse cx="376.35" cy="467.60" rx="2.75" ry="2.75" fill="#F8766D"/>
<ellipse cx="390.56" cy="450.80" rx="2.75" ry="2.75" fill="#F8766D"/>
<ellipse cx="404.76" cy="456.00" rx="2.75" ry="2.75" fill="#F8766D"/>
<ellipse cx="418.97" cy="436.20" rx="2.75" ry="2.75" fill="#F8766D"/>
<ellipse cx="433.17" cy="432.70" rx="2.75" ry="2.75" fill="#F8766D"/>
<ellipse cx="447.38" cy="445.70" rx="2.75" ry="2.75" fill="#F8766D"/>
<ellipse cx="461.58" cy="431.00" rx="2.75" ry="2.75" fill="#F8766D"/>
<ellipse cx="475.79" cy="422.50" rx="2.75" ry="2.75" fill="#F8766D"/>
<ellipse cx="489.99" cy="389.20" rx="2.75" ry="2.75" fill="#F8766D"/>
<ellipse cx="504.20" cy="419.80" rx="2.75" ry="2.75" fill="#F8766D"/>
<ellipse cx="518.40" cy="386.00" rx="2.75" ry="2.75" fill="#F8766D"/>
<ellipse cx="532.61" cy="368.90" rx="2.75" ry="2.75" fill="#F8766D"/>
<ellipse cx="546.81" cy="361.10" rx="2.75" ry="2.75" fill="#F8766D"/>
<ellipse cx="561.01" cy="311.30" rx="2.75" ry="2.75" fill="#F8766D"/>
<ellipse cx="561.12" cy="329.90" rx="2.75" ry="2.75" fill="#F8766D"/>
<ellipse cx="575.36" cy="251.50" rx="2.75" ry="2.75" fill="#F8766D"/>
<ellipse cx="589.60" cy="294.50" rx="2.75" ry="2.75" fill="#F8766D"/>
<ellipse cx="603.84" cy="234.40" rx="2.75" ry="2.75" fill="#F8766D"/>
<ellipse cx="618.07" cy="199.40" rx="2.75" ry="2.75" fill="#F8766D"/>
<ellipse cx="632.31" cy="205.80" rx="2.75" ry="2.75" fill="#F8766D"/>
<ellipse cx="646.55" cy="199.40" rx="2.75" ry="2.75" fill="#F8766D"/>
<ellipse cx="660.79" cy="211.60" rx="2.75" ry="2.75" fill="#F8766D"/>
<ellipse cx="675.02" cy="206.10" rx="2.75" ry="2.75" fill="#F8766D"/>
<ellipse cx="689.26" cy="210.10" rx="2.75" ry="2.75" fill="#F8766D"/>
<ellipse cx="703.50" cy="192.70" rx="2.75" ry="2.75" fill="#F8766D"/>
<ellipse cx="717.74" cy="231.70" rx="2.75" ry="2.75" fill="#F8766D"/>
<ellipse cx="731.97" cy="190.30" rx="2.75" ry="2.75" fill="#F8766D"/>
<ellipse cx="746.21" cy="237.30" rx="2.75" ry="2.75" fill="#F8766D"/>
<ellipse cx="760.45" cy="183.70" rx="2.75" ry="2.75" fill="#F8766D"/>
<ellipse cx="774.69" cy="141.00" rx="2.75" ry="2.75" fill="#F8766D"/>
<ellipse cx="788.92" cy="177.60" rx="2.75" ry="2.75" fill="#F8766D"/>
<ellipse cx="803.16" cy="200.80" rx="2.75" ry="2.75" fill="#F8766D"/>
<ellipse cx="817.40" cy="199.40" rx="2.75" ry="2.75" fill="#F8766D"/>
<ellipse cx="831.64" cy="147.20" rx="2.75" ry="2.75" fill="#F8766D"/>
<ellipse cx="845.88" cy="146.20" rx="2.75" ry="2.75" fill="#F8766D"/>
<ellipse cx="860.11" cy="134.90" rx="2.75" ry="2.75" fill="#F8766D"/>
<ellipse cx="874.35" cy="121.00" rx="2.75" ry="2.75" fill="#F8766D"/>
<ellipse cx="888.59" cy="215.30" rx="2.75" ry="2.75" fill="#F8766D"/>
<ellipse cx="902.82" cy="183.80" rx="2.75" ry="2.75" fill="#F8766D"/>
<ellipse cx="917.06" cy="169.30" rx="2.75" ry="2.75" fill="#F8766D"/>
<ellipse cx="931.30" cy="162.10" rx="2.75" ry="2.75" fill="#F8766D"/>
<ellipse cx="945.54" cy="185.60" rx="2.75" ry="2.75" fill="#F8766D"/>
<ellipse cx="959.77" cy="62.40" rx="2.75" ry="2.75" fill="#F8766D"/>
<ellipse cx="974.01" cy="139.40" rx="2.75" ry="2.75" fill="#F8766D"/>
<ellipse cx="988.25" cy="147.20" rx="2.75" ry="2.75" fill="#F8766D"/>
<ellipse cx="1002.49" cy="132.30" rx="2.75" ry="2.75" fill="#F8766D"/>
<ellipse cx="1016.72" cy="127.70" rx="2.75" ry="2.75" fill="#F8766D"/>
<ellipse cx="1030.96" cy="113.00" rx="2.75" ry="2.75" fill="#F8766D"/>
<path d="M92.25,443.35 L95.80,449.65 L88.70,449.65Z" fill="#00BFC4"/>
<path d="M106.45,470.95 L110.00,477.25 L102.91,477.25Z" fill="#00BFC4"/>
<path d="M120.66,479.95 L124.21,486.25 L117.11,486.25Z" fill="#00BFC4"/>
<path d="M134.86,468.25 L138.41,474.55 L131.31,474.55Z" fill="#00BFC4"/>
<path d="M149.07,436.55 L152.62,442.85 L145.52,442.85Z" fill="#00BFC4"/>
<path d="M163.28,455.55 L166.83,461.85 L159.72,461.85Z" fill="#00BFC4"/>
<path d="M177.48,456.35 L181.03,462.65 L173.93,462.65Z" fill="#00BFC4"/>
<path d="M191.69,465.35 L195.24,471.65 L188.13,471.65Z" fill="#00BFC4"/>
<path d="M205.89,462.15 L209.44,468.45 L202.34,468.45Z" fill="#00BFC4"/>
<path d="M220.10,437.45 L223.65,443.75 L216.55,443.75Z" fill="#00BFC4"/>
<path d="M234.30,381.85 L237.85,388.15 L230.75,388.15Z" fill="#00BFC4"/>
<path d="M248.50,445.55 L252.06,451.85 L244.95,451.85Z" fill="#00BFC4"/>
<path d="M262.71,438.25 L266.26,444.55 L259.16,444.55Z" fill="#00BFC4"/>
<path d="M276.91,409.05 L280.46,415.35 L273.36,415.35Z" fill="#00BFC4"/>
<path d="M291.12,456.95 L294.67,463.25 L287.57,463.25Z" fill="#00BFC4"/>
<path d="M305.32,424.35 L308.88,430.65 L301.77,430.65Z" fill="#00BFC4"/>
<path d="M319.53,451.35 L323.08,457.65 L315.98,457.65Z" fill="#00BFC4"/>
<path d="M333.73,430.75 L337.28,437.05 L330.18,437.05Z" fill="#00BFC4"/>
<path d="M347.94,419.05 L351.49,425.35 L344.39,425.35Z" fill="#00BFC4"/>
<path d="M362.14,440.15 L365.69,446.45 L358.59,446.45Z" fill="#00BFC4"/>
<path d="M376.35,416.55 L379.90,422.85 L372.80,422.85Z" fill="#00BFC4"/>
<path d="M390.56,370.15 L394.11,376.45 L387.00,376.45Z" fill="#00BFC4"/>
<path d="M404.76,406.05 L408.31,412.35 L401.21,412.35Z" fill="#00BFC4"/>
<path d="M418.97,419.35 L422.52,425.65 L415.42,425.65Z" fill="#00BFC4"/>
<path d="M433.17,363.65 L436.72,369.95 L429.62,369.95Z" fill="#00BFC4"/>
<path d="M447.38,366.95 L450.93,373.25 L443.82,373.25Z" fill="#00BFC4"/>
<path d="M461.58,393.85 L465.13,400.15 L458.03,400.15Z" fill="#00BFC4"/>
<path d="M475.79,329.65 L479.34,335.95 L472.24,335.95Z" fill="#00BFC4"/>
<path d="M489.99,359.05 L493.54,365.35 L486.44,365.35Z" fill="#00BFC4"/>
<path d="M504.20,310.55 L507.75,316.85 L500.65,316.85Z" fill="#00BFC4"/>
<path d="M518.40,355.15 L521.95,361.45 L514.85,361.45Z" fill="#00BFC4"/>
<path d="M532.61,284.95 L536.15,291.25 L529.06,291.25Z" fill="#00BFC4"/>
<path d="M546.81,325.55 L550.36,331.85 L543.26,331.85Z" fill="#00BFC4"/>
<path d="M561.01,259.55 L564.56,265.85 L557.47,265.85Z" fill="#00BFC4"/>
<path d="M561.12,369.95 L564.67,376.25 L557.57,376.25Z" fill="#00BFC4"/>
<path d="M575.36,252.65 L578.91,258.95 L571.81,258.95Z" fill="#00BFC4"/>
<path d="M589.60,239.15 L593.15,245.45 L586.05,245.45Z" fill="#00BFC4"/>
<path d="M603.84,155.35 L607.39,161.65 L600.29,161.65Z" fill="#00BFC4"/>
<path d="M618.07,209.25 L621.62,215.55 L614.52,215.55Z" fill="#00BFC4"/>
<path d="M632.31,175.15 L635.86,181.45 L628.76,181.45Z" fill="#00BFC4"/>
<path d="M646.55,155.35 L650.10,161.65 L643.00,161.65Z" fill="#00BFC4"/>
<path d="M660.79,129.05 L664.34,135.35 L657.24,135.35Z" fill="#00BFC4"/>
<path d="M675.02,175.35 L678.57,181.65 L671.48,181.65Z" fill="#00BFC4"/>
<path d="M689.26,184.15 L692.81,190.45 L685.71,190.45Z" fill="#00BFC4"/>
<path d="M703.50,91.65 L707.05,97.95 L699.95,97.95Z" fill="#00BFC4"/>
<path d="M717.74,190.55 L721.29,196.85 L714.19,196.85Z" fill="#00BFC4"/>
<path d="M731.97,233.15 L735.52,239.45 L728.42,239.45Z" fill="#00BFC4"/>
<path d="M746.21,125.75 L749.76,132.05 L742.66,132.05Z" fill="#00BFC4"/>
<path d="M760.45,91.65 L764.00,97.95 L756.90,97.95Z" fill="#00BFC4"/>
<path d="M774.69,94.55 L778.24,100.85 L771.14,100.85Z" fill="#00BFC4"/>
<path d="M788.92,184.15 L792.47,190.45 L785.38,190.45Z" fill="#00BFC4"/>
<path d="M803.16,193.75 L806.71,200.05 L799.61,200.05Z" fill="#00BFC4"/>
<path d="M817.40,55.35 L820.95,61.65 L813.85,61.65Z" fill="#00BFC4"/>
<path d="M831.64,219.15 L835.19,225.45 L828.09,225.45Z" fill="#00BFC4"/>
<path d="M845.88,173.05 L849.42,179.35 L842.33,179.35Z" fill="#00BFC4"/>
<path d="M860.11,77.15 L863.66,83.45 L856.56,83.45Z" fill="#00BFC4"/>
<path d="M874.35,123.15 L877.90,129.45 L870.80,129.45Z" fill="#00BFC4"/>
<path d="M888.59,75.15 L892.14,81.45 L885.04,81.45Z" fill="#00BFC4"/>
<path d="M902.82,221.55 L906.37,227.85 L899.27,227.85Z" fill="#00BFC4"/>
<path d="M917.06,82.05 L920.61,88.35 L913.51,88.35Z" fill="#00BFC4"/>
<path d="M931.30,85.85 L934.85,92.15 L927.75,92.15Z" fill="#00BFC4"/>
<path d="M945.54,116.25 L949.09,122.55 L941.99,122.55Z" fill="#00BFC4"/>
<path d="M959.77,98.95 L963.32,105.25 L956.22,105.25Z" fill="#00BFC4"/>
<path d="M974.01,94.85 L977.56,101.15 L970.46,101.15Z" fill="#00BFC4"/>
<path d="M988.25,95.05 L991.80,101.35 L984.70,101.35Z" fill="#00BFC4"/>
<path d="M1002.49,159.55 L1006.04,165.85 L998.94,165.85Z" fill="#00BFC4"/>
<path d="M1016.72,54.05 L1020.27,60.35 L1013.17,60.35Z" fill="#00BFC4"/>
<path d="M1030.96,70.15 L1034.51,76.45 L1027.41,76.45Z" fill="#00BFC4"/>
<line x1="560.75" x2="560.75" y1="2.5" y2="515.6" stroke="#999999" stroke-width="1.4" stroke-opacity="0.3"/>
<path d="M45.62,515.6 L45.62,2.5 L1076.88,2.5 L1076.88,515.6" fill="none" stroke="#C4C4C4" stroke-width="1.4"/>
<line x1="44.92" x2="1077.58" y1="515.4" y2="515.4" stroke="#A0A0A0" stroke-width="1.4"/>
<line x1="43.42" x2="45.62" y1="515.40" y2="515.40" stroke="#B0B0B0" stroke-width="1.4"/>
<text x="43.25" y="521.40" text-anchor="end" font-family="Liberation Sans" font-size="16" fill="#4D4D4D" stroke="#4D4D4D" stroke-width="0.3">0.0</text>
<line x1="43.42" x2="45.62" y1="390.38" y2="390.38" stroke="#B0B0B0" stroke-width="1.4"/>
<text x="43.25" y="396.38" text-anchor="end" font-family="Liberation Sans" font-size="16" fill="#4D4D4D" stroke="#4D4D4D" stroke-width="0.3">0.2</text>
<line x1="43.42" x2="45.62" y1="265.36" y2="265.36" stroke="#B0B0B0" stroke-width="1.4"/>
<text x="43.25" y="271.36" text-anchor="end" font-family="Liberation Sans" font-size="16" fill="#4D4D4D" stroke="#4D4D4D" stroke-width="0.3">0.4</text>
<line x1="43.42" x2="45.62" y1="140.34" y2="140.34" stroke="#B0B0B0" stroke-width="1.4"/>
<text x="43.25" y="146.34" text-anchor="end" font-family="Liberation Sans" font-size="16" fill="#4D4D4D" stroke="#4D4D4D" stroke-width="0.3">0.6</text>
<line x1="43.42" x2="45.62" y1="15.32" y2="15.32" stroke="#B0B0B0" stroke-width="1.4"/>
<text x="43.25" y="21.32" text-anchor="end" font-family="Liberation Sans" font-size="16" fill="#4D4D4D" stroke="#4D4D4D" stroke-width="0.3">0.8</text>
<line x1="86.50" x2="86.50" y1="515.6" y2="517.8000000000001" stroke="#B0B0B0" stroke-width="1.4"/>
<text x="87.50" y="530" text-anchor="middle" font-family="Liberation Sans" font-size="16" fill="#4D4D4D" stroke="#4D4D4D" stroke-width="0.3">-1000</text>
<line x1="323.62" x2="323.62" y1="515.6" y2="517.8000000000001" stroke="#B0B0B0" stroke-width="1.4"/>
<text x="324.62" y="530" text-anchor="middle" font-family="Liberation Sans" font-size="16" fill="#4D4D4D" stroke="#4D4D4D" stroke-width="0.3">-500</text>
<line x1="560.75" x2="560.75" y1="515.6" y2="517.8000000000001" stroke="#B0B0B0" stroke-width="1.4"/>
<text x="560.75" y="530" text-anchor="middle" font-family="Liberation Sans" font-size="16" fill="#4D4D4D" stroke="#4D4D4D" stroke-width="0.3">0</text>
<line x1="797.88" x2="797.88" y1="515.6" y2="517.8000000000001" stroke="#B0B0B0" stroke-width="1.4"/>
<text x="797.88" y="530" text-anchor="middle" font-family="Liberation Sans" font-size="16" fill="#4D4D4D" stroke="#4D4D4D" stroke-width="0.3">500</text>
<line x1="1035.00" x2="1035.00" y1="515.6" y2="517.8000000000001" stroke="#B0B0B0" stroke-width="1.4"/>
<text x="1035.00" y="530" text-anchor="middle" font-family="Liberation Sans" font-size="16" fill="#4D4D4D" stroke="#4D4D4D" stroke-width="0.3">1000</text>
<text transform="translate(561.38,548) scale(0.966,1)" x="0" y="0" text-anchor="middle" font-family="Liberation Sans" font-size="20" fill="#000" stroke="#000" stroke-width="0.25">Days to age 35</text>
<text transform="translate(16.75,258.4) rotate(-90)" x="0" y="0" text-anchor="middle" font-family="Liberation Sans" font-size="20" fill="#000" stroke="#000" stroke-width="0.25">P(Diagnostic test)</text>
<rect x="92.56" y="82.3" width="26.81" height="55" fill="#999999" fill-opacity="0.4"/>
<line x1="95.00" x2="117.12" y1="96.2" y2="96.2" stroke="#F8766D" stroke-width="2.0"/>
<ellipse cx="106.00" cy="96.20" rx="2.75" ry="2.75" fill="#F8766D"/>
<line x1="95.25" x2="99.38" y1="123.75" y2="123.75" stroke="#00BFC4" stroke-width="2.2"/>
<line x1="111.25" x2="115.37" y1="123.75" y2="123.75" stroke="#00BFC4" stroke-width="2.2"/>
<path d="M106.25,120.05 L109.80,126.35 L102.70,126.35Z" fill="#00BFC4"/>
<text transform="translate(129.25,102) scale(0.985,1)" x="0" y="0" font-family="Liberation Sans" font-size="15.2" fill="#111" stroke="#111" stroke-width="0.15">Non-expert</text>
<text transform="translate(129.25,129.4) scale(0.985,1)" x="0" y="0" font-family="Liberation Sans" font-size="15.2" fill="#111" stroke="#111" stroke-width="0.15">Expert</text>
</g>
</svg>
</body></html>
